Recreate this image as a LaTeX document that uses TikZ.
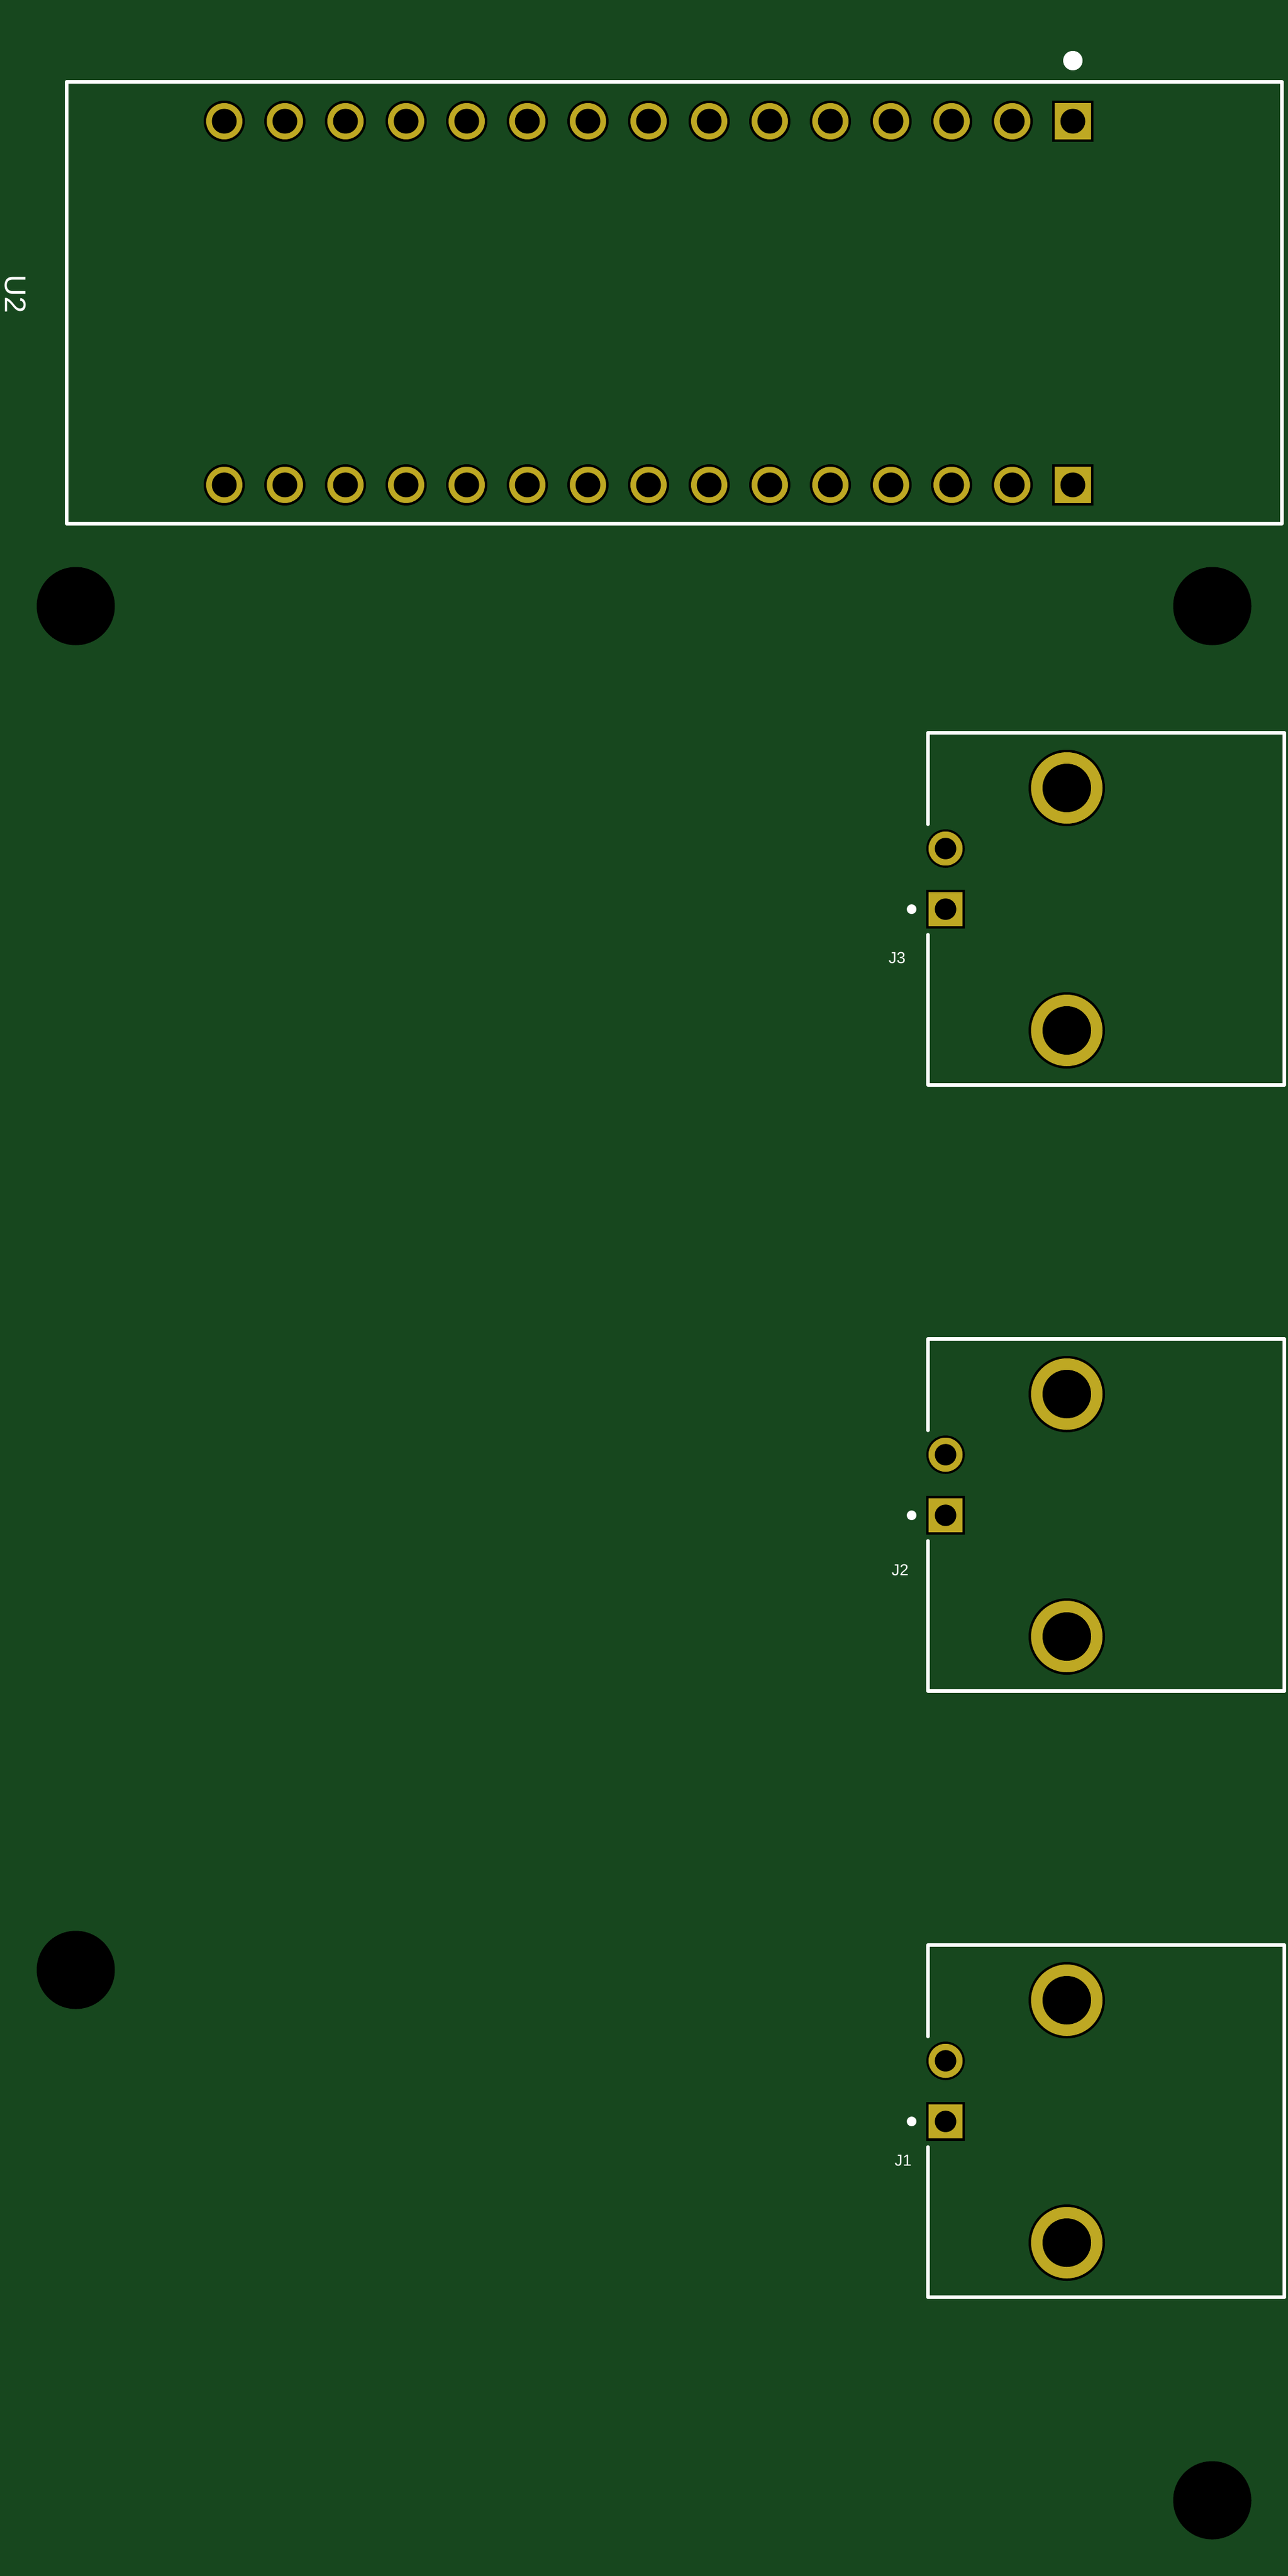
\documentclass[tikz,border=0pt]{standalone}
\usepackage{tikz}
\usepackage{fontspec}
\setmainfont{Liberation Sans}
\definecolor{board}{HTML}{17471E}
\definecolor{copper}{HTML}{BEA823}

\begin{document}
\begin{tikzpicture}[node distance=1cm,
	padbase/.style={draw=black, fill=copper, inner sep=0pt, outer sep=0pt},
	round/.style={padbase, circle, line width=.04cm, minimum size=.64cm,
		path picture={\fill[black] (path picture bounding box.center) circle (.205cm);}},
	square/.style={padbase, rectangle, line width=.04cm, minimum size=.64cm,
		path picture={\fill[black] (path picture bounding box.center) circle (.205cm);}},
	jround/.style={round, line width=.035cm, minimum size=.6cm,
		path picture={\fill[black] (path picture bounding box.center) circle (.177cm);}},
	jsquare/.style={square, line width=.035cm, minimum size=.6cm,
		path picture={\fill[black] (path picture bounding box.center) circle (.177cm);}},
	jbig/.style={round, minimum size=1.22cm,
		path picture={\fill[black] (path picture bounding box.center) circle (.40cm);}},
	mount/.style={circle, fill=black, inner sep=0pt, minimum size=1.29cm},
	dot/.style={circle, fill=white, inner sep=0pt, minimum size=.16cm},
	silk/.style={draw=white, line width=.055cm, line cap=round, line join=round},
	ref/.style={text=white, inner sep=0pt, font=\fontsize{7.5}{8}\selectfont}]

		\useasboundingbox (0,0) rectangle (21.25,-42.5);
		\fill[board] (0,0) rectangle (21.25,-42.5);

		% module
		\draw[silk] (1.10,-1.35) rectangle (21.15,-8.64);
		\node[text=white, inner sep=0pt, rotate=-90, font=\fontsize{14}{15}\selectfont] (u2) at (.25,-4.85) {U2};
		\node[dot, minimum size=.32cm] (u2d) at (17.7,-1) {};

		\node[round] (t1) at (3.7,-2) {};
		\node[round] (t2) [right of=t1] {};
		\node[round] (t3) [right of=t2] {};
		\node[round] (t4) [right of=t3] {};
		\node[round] (t5) [right of=t4] {};
		\node[round] (t6) [right of=t5] {};
		\node[round] (t7) [right of=t6] {};
		\node[round] (t8) [right of=t7] {};
		\node[round] (t9) [right of=t8] {};
		\node[round] (t10) [right of=t9] {};
		\node[round] (t11) [right of=t10] {};
		\node[round] (t12) [right of=t11] {};
		\node[round] (t13) [right of=t12] {};
		\node[round] (t14) [right of=t13] {};
		\node[square] (t15) [right of=t14] {};

		\node[round] (b1) at (3.7,-8) {};
		\node[round] (b2) [right of=b1] {};
		\node[round] (b3) [right of=b2] {};
		\node[round] (b4) [right of=b3] {};
		\node[round] (b5) [right of=b4] {};
		\node[round] (b6) [right of=b5] {};
		\node[round] (b7) [right of=b6] {};
		\node[round] (b8) [right of=b7] {};
		\node[round] (b9) [right of=b8] {};
		\node[round] (b10) [right of=b9] {};
		\node[round] (b11) [right of=b10] {};
		\node[round] (b12) [right of=b11] {};
		\node[round] (b13) [right of=b12] {};
		\node[round] (b14) [right of=b13] {};
		\node[square] (b15) [right of=b14] {};

		% mounting holes
		\node[mount] (m1) at (1.25,-10) {};
		\node[mount] (m2) at (20,-10) {};
		\node[mount] (m3) at (1.25,-32.5) {};
		\node[mount] (m4) at (20,-41.25) {};

		% connectors
		\draw[silk] (15.31,-13.60) -- (15.31,-12.09) -- (21.19,-12.09) -- (21.19,-17.90) -- (15.31,-17.90) -- (15.31,-15.42);
		\node[jsquare] (j3a) at (15.6,-15) {};
		\node[jround] (j3b) [above of=j3a] {};
		\node[jbig] (j3c) at (17.6,-13) {};
		\node[jbig] (j3e) [below of=j3c, node distance=4cm] {};
		\node[dot] (j3d) [left of=j3a, node distance=.56cm] {};
		\node[ref] (j3) at (14.80,-15.80) {J3};

		\draw[silk] (15.31,-23.60) -- (15.31,-22.09) -- (21.19,-22.09) -- (21.19,-27.90) -- (15.31,-27.90) -- (15.31,-25.42);
		\node[jsquare] (j2a) at (15.6,-25) {};
		\node[jround] (j2b) [above of=j2a] {};
		\node[jbig] (j2c) at (17.6,-23) {};
		\node[jbig] (j2e) [below of=j2c, node distance=4cm] {};
		\node[dot] (j2d) [left of=j2a, node distance=.56cm] {};
		\node[ref] (j2) at (14.85,-25.90) {J2};

		\draw[silk] (15.31,-33.60) -- (15.31,-32.09) -- (21.19,-32.09) -- (21.19,-37.90) -- (15.31,-37.90) -- (15.31,-35.42);
		\node[jsquare] (j1a) at (15.6,-35) {};
		\node[jround] (j1b) [above of=j1a] {};
		\node[jbig] (j1c) at (17.6,-33) {};
		\node[jbig] (j1e) [below of=j1c, node distance=4cm] {};
		\node[dot] (j1d) [left of=j1a, node distance=.56cm] {};
		\node[ref] (j1) at (14.90,-35.65) {J1};

		\end{tikzpicture}
\end{document}
